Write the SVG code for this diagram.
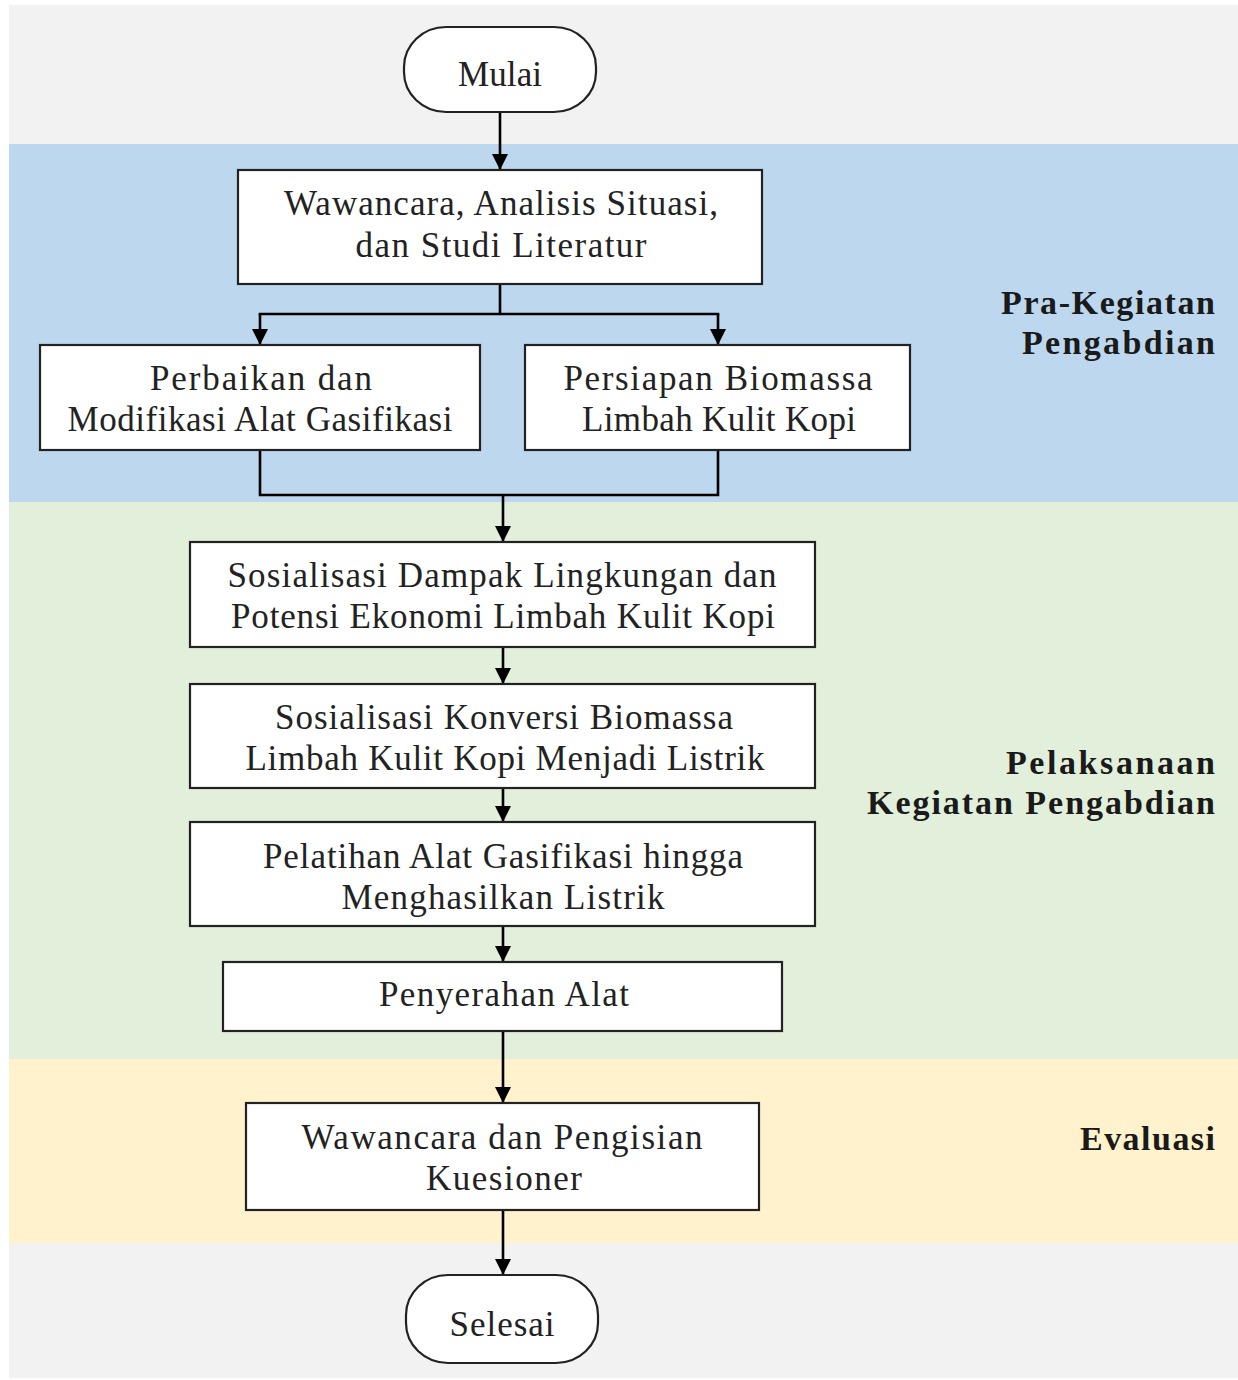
<svg xmlns="http://www.w3.org/2000/svg" width="1238" height="1380" viewBox="0 0 1238 1380">
<defs>
<style>
.box{fill:#fff;stroke:#222;stroke-width:2.2}
.t{font-family:"Liberation Serif","DejaVu Serif",serif;font-size:35px;fill:#222;text-anchor:middle}
.lbl{font-family:"Liberation Serif","DejaVu Serif",serif;font-size:34px;font-weight:bold;fill:#1a1a1a;text-anchor:end}
.c{fill:none;stroke:#000;stroke-width:2.6}
</style>
<marker id="arr" viewBox="0 0 10 10" refX="10" refY="5" markerWidth="16" markerHeight="16" markerUnits="userSpaceOnUse" orient="auto">
<path d="M0,0 L10,5 L0,10 Z" fill="#000"/>
</marker>
</defs>
<g id="bands">
<rect x="9" y="5" width="1229" height="1373" fill="#f2f2f2"/>
<rect x="9" y="144" width="1229" height="358" fill="#bdd7ee"/>
<rect x="9" y="502" width="1229" height="557" fill="#e2efda"/>
<rect x="9" y="1059" width="1229" height="184" fill="#fff2cc"/>
</g>
<g id="phase-labels">
<text class="lbl" x="1215" y="314" textLength="214" lengthAdjust="spacing">Pra-Kegiatan</text>
<text class="lbl" x="1215" y="354" textLength="193" lengthAdjust="spacing">Pengabdian</text>
<text class="lbl" x="1215" y="774" textLength="209" lengthAdjust="spacing">Pelaksanaan</text>
<text class="lbl" x="1215" y="814" textLength="348" lengthAdjust="spacing">Kegiatan Pengabdian</text>
<text class="lbl" x="1215" y="1150" textLength="135" lengthAdjust="spacing">Evaluasi</text>
</g>
<g id="connectors">
<line class="c" x1="500" y1="112" x2="500" y2="170" marker-end="url(#arr)"/>
<line class="c" x1="500" y1="284" x2="500" y2="314"/>
<line class="c" x1="258.7" y1="314" x2="719.3" y2="314"/>
<line class="c" x1="260" y1="314" x2="260" y2="345" marker-end="url(#arr)"/>
<line class="c" x1="718" y1="314" x2="718" y2="345" marker-end="url(#arr)"/>
<polyline class="c" points="260,450 260,495 718,495 718,450"/>
<line class="c" x1="503" y1="495" x2="503" y2="542" marker-end="url(#arr)"/>
<line class="c" x1="503" y1="647" x2="503" y2="684" marker-end="url(#arr)"/>
<line class="c" x1="503" y1="788" x2="503" y2="822" marker-end="url(#arr)"/>
<line class="c" x1="503" y1="926" x2="503" y2="962" marker-end="url(#arr)"/>
<line class="c" x1="503" y1="1031" x2="503" y2="1103" marker-end="url(#arr)"/>
<line class="c" x1="503" y1="1210" x2="503" y2="1275" marker-end="url(#arr)"/>
</g>
<g id="mulai">
<rect class="box" x="404" y="27" width="192" height="85" rx="42" ry="40"/>
<text class="t" x="500" y="86" textLength="84" lengthAdjust="spacing">Mulai</text>
</g>
<g id="n1">
<rect class="box" x="238" y="170" width="524" height="114"/>
<text class="t" x="501" y="215" textLength="434" lengthAdjust="spacing">Wawancara, Analisis Situasi,</text>
<text class="t" x="501" y="257" textLength="291" lengthAdjust="spacing">dan Studi Literatur</text>
</g>
<g id="n2">
<rect class="box" x="40" y="345" width="440" height="105"/>
<text class="t" x="261" y="390" textLength="222" lengthAdjust="spacing">Perbaikan dan</text>
<text class="t" x="260" y="431" textLength="385" lengthAdjust="spacing">Modifikasi Alat Gasifikasi</text>
</g>
<g id="n3">
<rect class="box" x="525" y="345" width="385" height="105"/>
<text class="t" x="718" y="390" textLength="309" lengthAdjust="spacing">Persiapan Biomassa</text>
<text class="t" x="719" y="431" textLength="274" lengthAdjust="spacing">Limbah Kulit Kopi</text>
</g>
<g id="n4">
<rect class="box" x="190" y="542" width="625" height="105"/>
<text class="t" x="502" y="587" textLength="549" lengthAdjust="spacing">Sosialisasi Dampak Lingkungan dan</text>
<text class="t" x="503" y="628" textLength="544" lengthAdjust="spacing">Potensi Ekonomi Limbah Kulit Kopi</text>
</g>
<g id="n5">
<rect class="box" x="190" y="684" width="625" height="104"/>
<text class="t" x="504" y="729" textLength="458" lengthAdjust="spacing">Sosialisasi Konversi Biomassa</text>
<text class="t" x="505" y="770" textLength="519" lengthAdjust="spacing">Limbah Kulit Kopi Menjadi Listrik</text>
</g>
<g id="n6">
<rect class="box" x="190" y="822" width="625" height="104"/>
<text class="t" x="503" y="868" textLength="480" lengthAdjust="spacing">Pelatihan Alat Gasifikasi hingga</text>
<text class="t" x="503" y="909" textLength="323" lengthAdjust="spacing">Menghasilkan Listrik</text>
</g>
<g id="n7">
<rect class="box" x="223" y="962" width="559" height="69"/>
<text class="t" x="504" y="1006" textLength="250" lengthAdjust="spacing">Penyerahan Alat</text>
</g>
<g id="n8">
<rect class="box" x="246" y="1103" width="513" height="107"/>
<text class="t" x="502" y="1149" textLength="401" lengthAdjust="spacing">Wawancara dan Pengisian</text>
<text class="t" x="504" y="1190" textLength="156" lengthAdjust="spacing">Kuesioner</text>
</g>
<g id="selesai">
<rect class="box" x="406" y="1275" width="192" height="88" rx="42" ry="40"/>
<text class="t" x="502" y="1336" textLength="105" lengthAdjust="spacing">Selesai</text>
</g>
</svg>
